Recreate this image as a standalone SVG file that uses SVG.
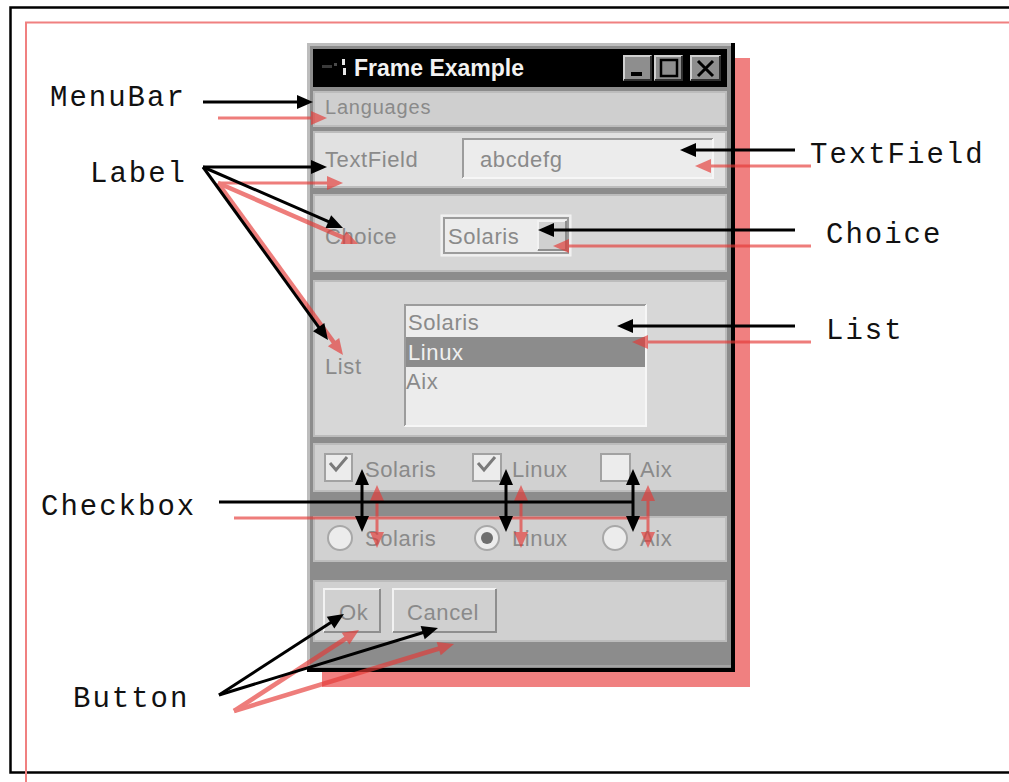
<svg xmlns="http://www.w3.org/2000/svg" width="1009" height="782" viewBox="0 0 1009 782">
  <defs>
    <style>
      .lbl{font-family:"Liberation Mono","Courier New",monospace;font-size:29px;letter-spacing:2px;fill:#111}
      .w{font-family:"Liberation Sans",Arial,sans-serif;font-size:22px;letter-spacing:0.6px;fill:#8a8a8a}
      .ttl{font-family:"Liberation Sans",Arial,sans-serif;font-size:23px;font-weight:bold;fill:#f2f2f2}
      .k{stroke:#000;stroke-width:3;fill:none}
      .p{stroke:#e53935;stroke-width:3;fill:none}
      .pd{stroke-width:4.5}
      .hi{stroke:#f2f2f2;stroke-width:2;fill:none}
      .sh{stroke:#8e8e8e;stroke-width:2;fill:none}
      .pnl{stroke:#bcbcbc;stroke-width:2}
      .tb{fill:#8e8e8e}
      .tbh{stroke:#d0d0d0;stroke-width:2;fill:none}
      .tbs{stroke:#303030;stroke-width:2;fill:none}
      .box{fill:#ececec;stroke:#a2a2a2;stroke-width:2}
    </style>
    <marker id="hk" markerUnits="userSpaceOnUse" markerWidth="18" markerHeight="16" refX="4" refY="7" orient="auto-start-reverse" overflow="visible">
      <path d="M0,0 L16,7 L0,14 Z" fill="#000"/>
    </marker>
    <marker id="hp" markerUnits="userSpaceOnUse" markerWidth="18" markerHeight="16" refX="4" refY="7" orient="auto-start-reverse" overflow="visible">
      <path d="M0,0 L16,7 L0,14 Z" fill="#e53935"/>
    </marker>
  </defs>

  <rect width="1009" height="782" fill="#fff"/>

  <!-- page borders -->
  <rect x="10.5" y="7.5" width="1010" height="765" fill="none" stroke="#000" stroke-width="2.5"/>
  <rect x="26" y="22.5" width="1010" height="780" fill="none" stroke="#f08080" stroke-width="2"/>

  <!-- window shadow -->
  <rect x="322" y="58" width="428" height="629" fill="#f08080"/>

  <!-- the AWT frame -->
  <g id="frame-example">
    <rect x="307" y="43" width="426" height="627" fill="#bdbdbd"/>
    <rect x="310" y="46" width="421" height="622" fill="#8c8c8c"/>
    <rect x="731" y="43" width="4" height="629" fill="#000"/>
    <rect x="307" y="668" width="428" height="4" fill="#000"/>
    <line x1="310" y1="666" x2="731" y2="666" stroke="#a4a4a4" stroke-width="2"/>

    <g id="title-bar">
      <rect x="313" y="49" width="414" height="38" fill="#000"/>
      <rect x="322" y="65" width="10" height="3" fill="#3a3a3a"/>
      <rect x="334" y="63" width="3" height="3" fill="#4a4a4a"/>
      <rect x="342" y="59" width="3" height="6" fill="#e8e8e8"/>
      <rect x="343" y="68" width="3" height="7" fill="#e8e8e8"/>
      <text class="ttl" x="354" y="76">Frame Example</text>
      <rect class="tb" x="623" y="55" width="29" height="26"/>
      <polyline class="tbh" points="624,80 624,56 651,56"/>
      <polyline class="tbs" points="624,80 651,80 651,56"/>
      <rect x="631" y="72" width="11" height="4" fill="#000"/>
      <rect class="tb" x="654" y="55" width="29" height="26"/>
      <polyline class="tbh" points="655,80 655,56 682,56"/>
      <polyline class="tbs" points="655,80 682,80 682,56"/>
      <rect x="661" y="60" width="16" height="16" fill="none" stroke="#000" stroke-width="2.5"/>
      <rect class="tb" x="690" y="55" width="31" height="26"/>
      <polyline class="tbh" points="691,80 691,56 720,56"/>
      <polyline class="tbs" points="691,80 720,80 720,56"/>
      <path d="M698,61 L713,76 M713,61 L698,76" stroke="#000" stroke-width="3"/>
    </g>

    <g id="menubar">
      <rect class="pnl" x="314" y="92" width="412" height="34" fill="#cfcfcf"/>
      <text class="w" x="325" y="114" style="font-size:20px;letter-spacing:0.8px">Languages</text>
    </g>

    <g id="textfield-row">
      <rect class="pnl" x="314" y="132" width="412" height="55" fill="#e1e1e1"/>
      <text class="w" x="325" y="167">TextField</text>
      <rect x="462" y="138" width="252" height="41" fill="#ececec"/>
      <polyline points="463,178 463,139 713,139" fill="none" stroke="#9c9c9c" stroke-width="2"/>
      <polyline points="463,178 713,178 713,139" fill="none" stroke="#f6f6f6" stroke-width="2"/>
      <text class="w" x="480" y="167">abcdefg</text>
    </g>

    <g id="choice-row">
      <rect class="pnl" x="314" y="195" width="412" height="76" fill="#d6d6d6"/>
      <text class="w" x="325" y="244">Choice</text>
      <rect x="441" y="215" width="130" height="41" fill="#ececec" stroke="#f4f4f4" stroke-width="1"/>
      <rect x="444" y="218" width="124" height="35" fill="none" stroke="#9c9c9c" stroke-width="2"/>
      <rect x="537" y="220" width="30" height="31" fill="#d0d0d0"/>
      <polyline class="hi" points="538,250 538,221 566,221"/>
      <polyline class="sh" points="538,250 566,250 566,221"/>
      <text class="w" x="448" y="244">Solaris</text>
    </g>

    <g id="list-row">
      <rect class="pnl" x="314" y="281" width="412" height="155" fill="#d7d7d7"/>
      <text class="w" x="325" y="374">List</text>
      <rect x="404" y="304" width="243" height="123" fill="#ececec"/>
      <polyline points="405,426 405,305 646,305" fill="none" stroke="#9c9c9c" stroke-width="2"/>
      <polyline points="405,426 646,426 646,305" fill="none" stroke="#f6f6f6" stroke-width="2"/>
      <rect x="406" y="337" width="239" height="30" fill="#8c8c8c"/>
      <text class="w" x="408" y="330">Solaris</text>
      <text class="w" x="408" y="360" style="fill:#f0f0f0">Linux</text>
      <text class="w" x="406" y="389">Aix</text>
    </g>

    <g id="checkbox-row">
      <rect class="pnl" x="314" y="444" width="412" height="47" fill="#d1d1d1"/>
      <rect class="box" x="325" y="454" width="27" height="27"/>
      <polyline points="330,463 336,470 347,457" fill="none" stroke="#7a7a7a" stroke-width="3"/>
      <text class="w" x="365" y="477">Solaris</text>
      <rect class="box" x="473" y="454" width="28" height="27"/>
      <polyline points="478,463 484,470 495,457" fill="none" stroke="#7a7a7a" stroke-width="3"/>
      <text class="w" x="512" y="477">Linux</text>
      <rect class="box" x="601" y="454" width="29" height="27"/>
      <text class="w" x="640" y="477">Aix</text>
    </g>

    <g id="radio-row">
      <rect class="pnl" x="314" y="517" width="412" height="44" fill="#d1d1d1"/>
      <circle cx="340" cy="538" r="12" fill="#ececec" stroke="#a8a8a8" stroke-width="2"/>
      <text class="w" x="365" y="546">Solaris</text>
      <circle cx="487" cy="538" r="12" fill="#ececec" stroke="#a8a8a8" stroke-width="2"/>
      <circle cx="487" cy="538" r="6" fill="#6e6e6e"/>
      <text class="w" x="512" y="546">Linux</text>
      <circle cx="615" cy="538" r="12" fill="#ececec" stroke="#a8a8a8" stroke-width="2"/>
      <text class="w" x="640" y="546">Aix</text>
    </g>

    <g id="button-row">
      <rect class="pnl" x="314" y="581" width="412" height="60" fill="#d0d0d0"/>
      <rect x="323" y="588" width="58" height="45" fill="#d0d0d0"/>
      <polyline class="hi" points="324,632 324,589 380,589"/>
      <polyline class="sh" points="324,632 380,632 380,589"/>
      <text class="w" x="339" y="620">Ok</text>
      <rect x="392" y="588" width="105" height="45" fill="#d0d0d0"/>
      <polyline class="hi" points="393,632 393,589 496,589"/>
      <polyline class="sh" points="393,632 496,632 496,589"/>
      <text class="w" x="407" y="620">Cancel</text>
    </g>
  </g>

  <!-- connectors: offset red print under the black ones -->
  <g id="connectors">
    <g id="connectors-red" opacity="0.65">
      <line class="p" x1="218" y1="118" x2="315" y2="118" marker-end="url(#hp)"/>
      <line class="p" x1="218" y1="183" x2="331" y2="183" marker-end="url(#hp)"/>
      <line class="p pd" x1="218" y1="183" x2="347" y2="239.2" marker-end="url(#hp)"/>
      <line class="p pd" x1="218" y1="183" x2="335.9" y2="345.3" marker-end="url(#hp)"/>
      <line class="p" x1="811" y1="166" x2="707" y2="166" marker-end="url(#hp)"/>
      <line class="p" x1="811" y1="246" x2="565" y2="246" marker-end="url(#hp)"/>
      <line class="p" x1="811" y1="342" x2="644" y2="342" marker-end="url(#hp)"/>
      <line class="p" x1="234" y1="518" x2="648" y2="518"/>
      <line class="p" x1="377" y1="497" x2="377" y2="536" marker-start="url(#hp)" marker-end="url(#hp)"/>
      <line class="p" x1="521" y1="497" x2="521" y2="536" marker-start="url(#hp)" marker-end="url(#hp)"/>
      <line class="p" x1="648" y1="497" x2="648" y2="536" marker-start="url(#hp)" marker-end="url(#hp)"/>
      <line class="p pd" x1="234" y1="711" x2="348.9" y2="636.5" marker-end="url(#hp)"/>
      <line class="p pd" x1="234" y1="711" x2="442.5" y2="647.5" marker-end="url(#hp)"/>
    </g>
    <g id="connectors-black">
      <line class="k" x1="203" y1="102" x2="301" y2="102" marker-end="url(#hk)"/>
      <line class="k" x1="203" y1="167" x2="315" y2="167" marker-end="url(#hk)"/>
      <line class="k" x1="203" y1="167" x2="332" y2="223.2" marker-end="url(#hk)"/>
      <line class="k" x1="203" y1="167" x2="321" y2="330.3" marker-end="url(#hk)"/>
      <line class="k" x1="795" y1="150" x2="692" y2="150" marker-end="url(#hk)"/>
      <line class="k" x1="795" y1="230" x2="550" y2="230" marker-end="url(#hk)"/>
      <line class="k" x1="795" y1="326" x2="629" y2="326" marker-end="url(#hk)"/>
      <line class="k" x1="219" y1="502" x2="633" y2="502"/>
      <line class="k" x1="362" y1="481" x2="362" y2="520" marker-start="url(#hk)" marker-end="url(#hk)"/>
      <line class="k" x1="506" y1="481" x2="506" y2="520" marker-start="url(#hk)" marker-end="url(#hk)"/>
      <line class="k" x1="633" y1="481" x2="633" y2="520" marker-start="url(#hk)" marker-end="url(#hk)"/>
      <line class="k" x1="219" y1="695" x2="333.9" y2="620.5" marker-end="url(#hk)"/>
      <line class="k" x1="219" y1="695" x2="426.5" y2="631.5" marker-end="url(#hk)"/>
    </g>
  </g>

  <!-- component names -->
  <g id="label-menubar"><text class="lbl" x="50" y="106">MenuBar</text></g>
  <g id="label-label"><text class="lbl" x="90" y="182">Label</text></g>
  <g id="label-textfield"><text class="lbl" x="810" y="163">TextField</text></g>
  <g id="label-choice"><text class="lbl" x="826" y="243">Choice</text></g>
  <g id="label-list"><text class="lbl" x="826" y="339">List</text></g>
  <g id="label-checkbox"><text class="lbl" x="41" y="515">Checkbox</text></g>
  <g id="label-button"><text class="lbl" x="73" y="707">Button</text></g>
</svg>
